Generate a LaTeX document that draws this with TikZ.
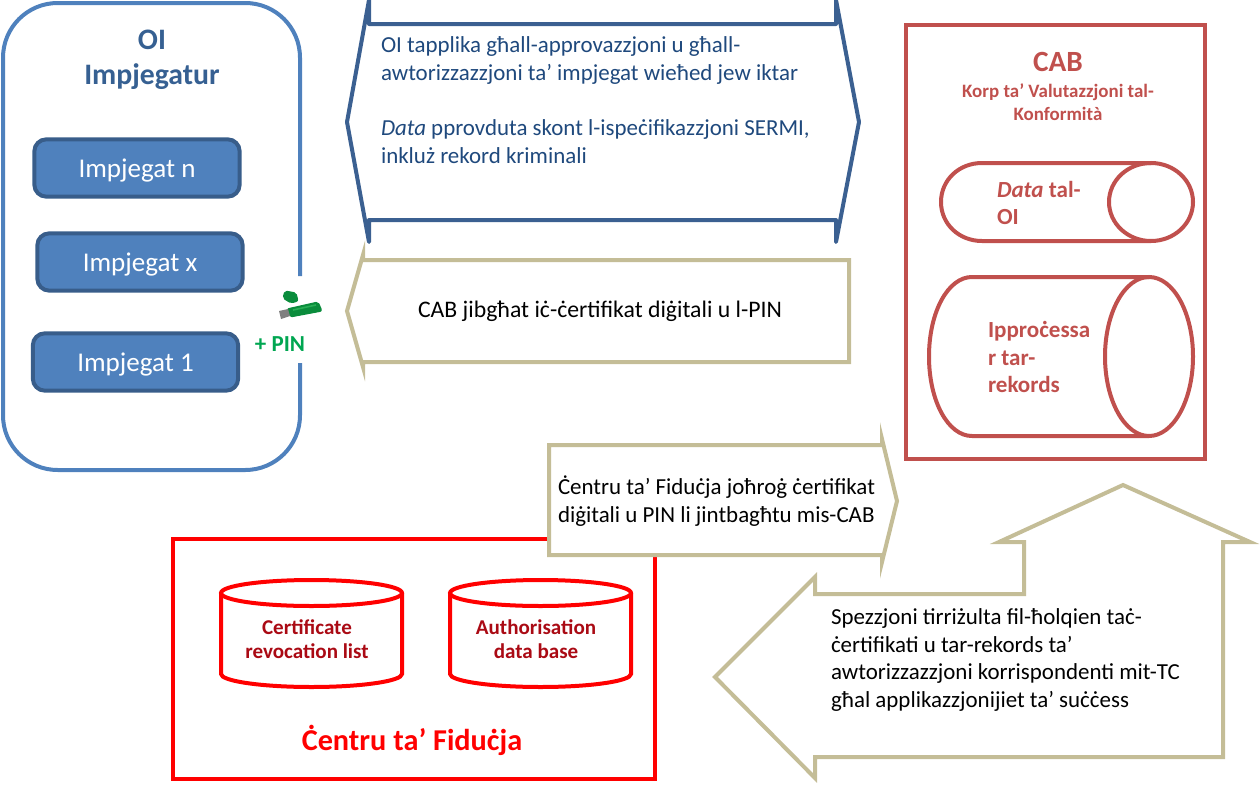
\documentclass[tikz,border=0pt]{standalone}
\usepackage{fontspec}
\setmainfont{Carlito}

\definecolor{oiBlue}{RGB}{79,129,189}
\definecolor{oiDark}{RGB}{56,93,138}
\definecolor{oiTitle}{RGB}{54,96,146}
\definecolor{reqBlue}{RGB}{31,73,125}
\definecolor{arrowBlue}{RGB}{59,96,145}
\definecolor{arrowTan}{RGB}{196,189,151}
\definecolor{cabRed}{RGB}{192,80,77}
\definecolor{dbText}{RGB}{170,10,20}
\definecolor{usbGreen}{RGB}{10,140,60}
\definecolor{usbLight}{RGB}{40,175,85}
\definecolor{pinGreen}{RGB}{0,166,81}

\tikzset{every picture/.style={line width=3pt}}
\tikzset{
	workerbox/.style={draw=oiDark,fill=oiBlue,rounded corners=9pt,minimum width=154pt,minimum height=43pt,inner sep=0pt,text=white,text height=14pt,text depth=0pt,font=\fontsize{20.3}{24}\selectfont},
	bluearrow/.style={draw=arrowBlue,fill=white,line join=round},
	tanarrow/.style={draw=arrowTan,fill=white,miter limit=20},
	bodytext/.style={inner sep=0pt,align=left,font=\fontsize{17.2}{20.7}\selectfont},
	cabtext/.style={inner sep=0pt,anchor=west,align=left,text=cabRed,font=\bfseries\fontsize{17.3}{20.4}\selectfont},
	dbtext/.style={inner sep=0pt,align=center,text=dbText,font=\bfseries\fontsize{15.8}{18.2}\selectfont}}

\begin{document}
\begin{tikzpicture}[x=0.75pt,y=0.75pt,yscale=-1,xscale=1]
	\useasboundingbox (0,0) rectangle (1260,785);

	%Rounded Rect, open for the stick
	\draw [draw=oiBlue,rounded corners=41pt] (300,363) -- (300,470) -- (3,470) -- (3,3) -- (300,3) -- (300,276) ;
	%Shape: Left Arrow
	\draw [tanarrow] (363,255) -- (347,311) -- (363,367) -- (363,362) -- (849,362) -- (849,260) -- (363,260) -- cycle ;
	%Shape: Left-Right Arrow
	\draw [bluearrow] (369,0) -- (347,122) -- (369,242) -- (369,220) -- (836,220) -- (836,242) -- (859,122) -- (836,0) -- (836,24) -- (369,24) -- cycle ;
	%Shape: Rectangle
	\draw [draw=cabRed] (906,25) rectangle (1205,459) ;
	%Shape: Horizontal Cylinder
	\draw [draw=cabRed] (1151,163) -- (982,163) .. controls (959,163) and (941,180) .. (941,202) .. controls (941,224) and (959,241) .. (982,241) -- (1151,241) ;
	\draw [draw=cabRed] (1151,202) ellipse (42 and 39) ;
	%Shape: Horizontal Cylinder
	\draw [draw=cabRed] (1149,277) -- (972,277) .. controls (948,277) and (929,312) .. (929,356.5) .. controls (929,401) and (948,436) .. (972,436) -- (1149,436) ;
	\draw [draw=cabRed] (1149,356.5) ellipse (44 and 79.5) ;
	%Shape: Rectangle
	\draw [draw=red] (173,539) rectangle (655,779) ;
	%Shape: Can
	\draw [draw=red] (221,593) -- (221,674) .. controls (221,681) and (261,687) .. (311.5,687) .. controls (362,687) and (402,681) .. (402,674) -- (402,593) ;
	\draw [draw=red] (311.5,593) ellipse (90.5 and 13) ;
	%Shape: Can
	\draw [draw=red] (450,593) -- (450,674) .. controls (450,681) and (490,687) .. (540.5,687) .. controls (591,687) and (631,681) .. (631,674) -- (631,593) ;
	\draw [draw=red] (540.5,593) ellipse (90.5 and 13) ;
	%Shape: Right Arrow
	\draw [tanarrow] (549,445) -- (882,445) -- (882,439) -- (897,501) -- (882,562) -- (882,555) -- (549,555) -- cycle ;
	%Shape: Left-Up Arrow
	\draw [tanarrow] (815,577) -- (715,677) -- (815,778) -- (815,757) -- (1223,757) -- (1223,542) -- (1250,542) -- (1123,485) -- (999,542) -- (1024,542) -- (1024,594) -- (815,594) -- cycle ;
	%Shape: USB stick
	\draw [usbGreen,fill=usbGreen,line width=0.8pt,rounded corners=1.5pt] (285,291) -- (296,293) -- (298,301) -- (291,303) -- (283,298) -- cycle ;
	\draw [usbGreen,fill=usbGreen,line width=0.8pt,rounded corners=1.5pt] (287,309) -- (318,302) -- (322,311) -- (290,317) -- cycle ;
	\draw [usbLight,line width=1.2pt] (293,310) -- (316,305) ;
	\fill [gray] (279,311) -- (288,309) -- (290,316) -- (281,319) -- cycle ;

	% Text Node
	\draw (152,40) node (oiName) [inner sep=0pt,text=oiTitle,font=\bfseries\fontsize{22.3}{28}\selectfont] {OI};
	% Text Node
	\draw (152,77) node (oiHeading) [inner sep=0pt,text=oiTitle,font=\bfseries\fontsize{22.3}{28}\selectfont] {Impjegatur};
	% Text Node
	\draw (137,168) node (workerN) [workerbox] {Impjegat n};
	% Text Node
	\draw (140,262) node (workerX) [workerbox] {Impjegat x};
	% Text Node
	\draw (135.5,362) node (worker1) [workerbox] {Impjegat 1};
	% Text Node
	\draw (280,344) node (pinMark) [inner sep=0pt,text=pinGreen,font=\bfseries\fontsize{17.2}{20}\selectfont] {+ PIN};
	% Text Node
	\draw (379,100) node (requestText) [bodytext,anchor=west,text=reqBlue] {OI tapplika għall-approvazzjoni u għall-\\awtorizzazzjoni ta’ impjegat wieħed jew iktar\\[\baselineskip]\textit{Data} pprovduta skont l-ispeċifikazzjoni SERMI,\\inkluż rekord kriminali};
	% Text Node
	\draw (600,311) node (cabSendText) [inner sep=0pt,font=\fontsize{17.8}{21}\selectfont] {CAB jibgħat iċ-ċertifikat diġitali u l-PIN};
	% Text Node
	\draw (1058,62) node (cabName) [inner sep=0pt,text=cabRed,font=\bfseries\fontsize{22}{26}\selectfont] {CAB};
	% Text Node
	\draw (1058,102) node (cabFull) [inner sep=0pt,align=center,text=cabRed,font=\bfseries\fontsize{14.2}{17}\selectfont] {Korp ta’ Valutazzjoni tal-\\Konformità};
	% Text Node
	\draw (995,203) node (oiData) [cabtext] {\textit{Data} tal-\\OI};
	% Text Node
	\draw (986,357) node (recordProc) [cabtext] {Ipproċessa\\r tar-\\rekords};
	% Text Node
	\draw (307,639) node (crlText) [dbtext] {Certificate\\revocation list};
	% Text Node
	\draw (536,639) node (authText) [dbtext] {Authorisation\\data base};
	% Text Node
	\draw (412,740) node (trustName) [inner sep=0pt,text=red,font=\bfseries\fontsize{22.7}{26}\selectfont] {Ċentru ta’ Fiduċja};
	% Text Node
	\draw (556,501) node (trustIssueText) [bodytext,anchor=west] {Ċentru ta’ Fiduċja joħroġ ċertifikat\\diġitali u PIN li jintbagħtu mis-CAB};
	% Text Node
	\draw (829,660) node (inspectText) [bodytext,anchor=west] {Spezzjoni tirriżulta fil-ħolqien taċ-\\ċertifikati u tar-rekords ta’\\awtorizzazzjoni korrispondenti mit-TC\\għal applikazzjonijiet ta’ suċċess};
\end{tikzpicture}
\end{document}
